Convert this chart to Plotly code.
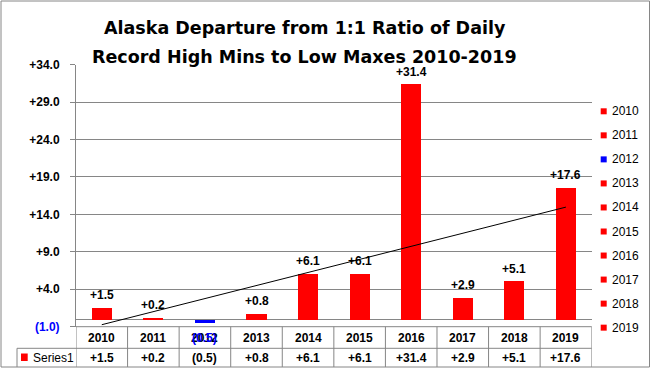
import numpy as np
import plotly.graph_objects as go

# ---- data ----
years = ["2010", "2011", "2012", "2013", "2014", "2015", "2016", "2017", "2018", "2019"]
values = [1.5, 0.2, -0.5, 0.8, 6.1, 6.1, 31.4, 2.9, 5.1, 17.6]
series_name = "Series1"
y_ticks = [-1, 4, 9, 14, 19, 24, 29, 34]
title_lines = ["Alaska Departure from 1:1 Ratio of Daily",
               "Record High Mins to Low Maxes 2010-2019"]

W, H = 651, 369
RED, BLUE, GRID = "#FF0000", "#0000FF", "#868686"
LBL = "Liberation Sans"


def fmt(v):
    return f"+{v:.1f}" if v >= 0 else f"({abs(v):.1f})"


def py(p):  # pixel-from-top -> paper y
    return 1 - p / H


def px(p):
    return p / W


colors = [RED if v >= 0 else BLUE for v in values]
idx = list(range(len(years)))

fig = go.Figure()
fig.add_trace(go.Bar(x=idx, y=values, marker=dict(color=colors, line=dict(width=0)),
                     width=0.39, hoverinfo="skip"))

# linear trendline (least squares, as the spreadsheet does)
k, b = np.polyfit(np.array(idx, float), np.array(values, float), 1)
fig.add_trace(go.Scatter(x=[idx[0], idx[-1]], y=[k * idx[0] + b, k * idx[-1] + b],
                         mode="lines", line=dict(color="black", width=1), hoverinfo="skip"))

plot_top, plot_bot = 64.7, 326.7
x_left, x_right = 76, 591.7

ticktext = []
for t in y_ticks:
    s = fmt(t)
    if t < 0:
        s = f"<span style='color:{BLUE}'>{s}</span>"
    ticktext.append(s)

fig.update_layout(
    width=W, height=H, margin=dict(l=0, r=0, t=0, b=0, pad=0, autoexpand=False),
    paper_bgcolor="white", plot_bgcolor="white", showlegend=False,
    bargap=0,
    xaxis=dict(domain=[px(x_left), px(x_right)], range=[-0.5, len(years) - 0.5],
               showticklabels=False, showgrid=False, zeroline=False, showline=False,
               automargin=False, fixedrange=True),
    yaxis=dict(domain=[py(plot_bot), py(plot_top)], range=[y_ticks[0], y_ticks[-1]],
               tickvals=y_ticks, ticktext=ticktext, showgrid=True, gridcolor=GRID, gridwidth=1,
               zeroline=True, zerolinecolor=GRID, zerolinewidth=1,
               showline=True, linecolor=GRID, linewidth=1,
               ticks="outside", ticklen=5, tickcolor=GRID, ticklabelstandoff=8,
               tickfont=dict(family=LBL, size=12, color="black", weight="bold"),
               automargin=False, fixedrange=True),
)

shapes = []
annotations = []

# chart border
shapes.append(dict(type="rect", xref="paper", yref="paper", x0=px(1), x1=px(649.5),
                   y0=py(367), y1=py(1), line=dict(color=GRID, width=1)))

# data table lines
row_sep, tbl_bot = 348.3, 367
shapes.append(dict(type="line", xref="paper", yref="paper", x0=px(x_left), x1=px(x_right),
                   y0=py(plot_bot), y1=py(plot_bot), line=dict(color=GRID, width=1)))
shapes.append(dict(type="line", xref="paper", yref="paper", x0=px(17), x1=px(x_right),
                   y0=py(row_sep), y1=py(row_sep), line=dict(color=GRID, width=1)))
shapes.append(dict(type="line", xref="paper", yref="paper", x0=px(17), x1=px(17),
                   y0=py(row_sep), y1=py(tbl_bot), line=dict(color=GRID, width=1)))
for i in range(len(years) + 1):
    shapes.append(dict(type="line", xref="x", yref="paper", x0=i - 0.5, x1=i - 0.5,
                       y0=py(plot_bot), y1=py(tbl_bot), line=dict(color=GRID, width=1)))

# table texts
for i, (yr, v) in enumerate(zip(years, values)):
    annotations.append(dict(x=i, y=py(337.5), xref="x", yref="paper", text=yr, showarrow=False,
                            font=dict(family=LBL, size=12, color="black", weight="bold"),
                            xanchor="center", yanchor="middle"))
    annotations.append(dict(x=i, y=py(357.7), xref="x", yref="paper", text=fmt(v), showarrow=False,
                            font=dict(family=LBL, size=12, color="black", weight="bold"),
                            xanchor="center", yanchor="middle"))
    # data labels
    if v >= 0:
        annotations.append(dict(x=i, y=v, xref="x", yref="y", text=fmt(v), showarrow=False,
                                font=dict(family=LBL, size=12, color="black", weight="bold"),
                                xanchor="center", yanchor="middle", yshift=12.5))
    else:
        annotations.append(dict(x=i, y=py(337.5), xref="x", yref="paper", text=fmt(v),
                                showarrow=False,
                                font=dict(family=LBL, size=12, color=BLUE, weight="bold"),
                                xanchor="center", yanchor="middle"))

# series key in table
shapes.append(dict(type="rect", xref="paper", yref="paper", x0=px(21), x1=px(27.7),
                   y0=py(361), y1=py(353.5), fillcolor=RED, line=dict(width=0)))
annotations.append(dict(x=px(31), y=py(357.5), xref="paper", yref="paper", text=series_name,
                        showarrow=False, font=dict(family=LBL, size=12, color="black"),
                        xanchor="left", yanchor="middle"))

# legend (one entry per category)
leg_y0, leg_dy = 111.3, 24.04
for i, yr in enumerate(years):
    cy = leg_y0 + i * leg_dy
    shapes.append(dict(type="rect", xref="paper", yref="paper", x0=px(600.7), x1=px(606.7),
                       y0=py(cy + 3), y1=py(cy - 3), fillcolor=colors[i], line=dict(width=0)))
    annotations.append(dict(x=px(610), y=py(cy), xref="paper", yref="paper", text=yr,
                            showarrow=False, font=dict(family=LBL, size=12, color="black"),
                            xanchor="left", yanchor="middle"))

# title (two lines)
for line, cy in zip(title_lines, [27.5, 56.5]):
    annotations.append(dict(x=px(304.5), y=py(cy), xref="paper", yref="paper", text=line,
                            showarrow=False,
                            font=dict(family="DejaVu Sans", size=17.5, color="black", weight="bold"),
                            xanchor="center", yanchor="middle"))

fig.update_layout(shapes=shapes, annotations=annotations)
fig.write_html("out.html", config={"displayModeBar": False, "responsive": False})

# remove the default page margin so the figure sits at the window's top-left corner
with open("out.html", encoding="utf-8") as f:
    html = f.read()
html = html.replace("<body>", "<body style=\"margin:0;padding:0;overflow:hidden\">", 1)
with open("out.html", "w", encoding="utf-8") as f:
    f.write(html)
